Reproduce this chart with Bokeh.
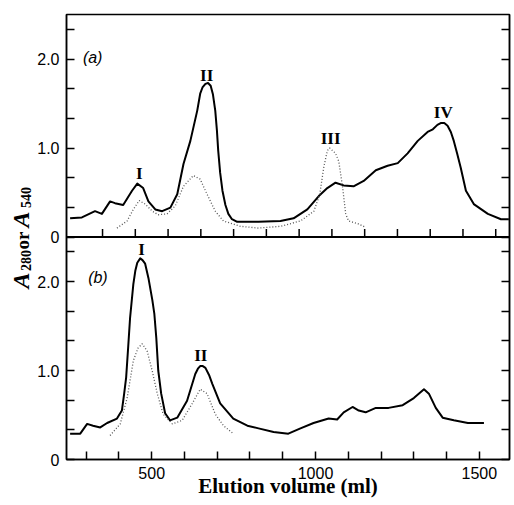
from math import pi
from bokeh.plotting import figure
from bokeh.layouts import row
from bokeh.models import Range1d, FixedTicker, LinearAxis, Span, Label, ColumnDataSource
from bokeh.embed import file_html
from bokeh.resources import INLINE

# ---------------- data (elution volume in ml, absorbance) ----------------
# Panel (a): solid = A280, dotted = A540
A_SOLID_X = [251, 287, 327, 348, 373, 388, 413, 440, 456, 474, 490, 511, 532, 557, 578, 597, 618, 639,
             648, 655, 664, 672, 680, 687, 694, 699, 703, 709, 716, 725, 734, 745, 761, 826, 893, 933,
             975, 1010, 1036, 1061, 1086, 1116, 1147, 1184, 1220, 1251, 1281, 1312, 1342, 1358, 1372,
             1382, 1393, 1403, 1413, 1422, 1432, 1443, 1459, 1483, 1526, 1566, 1590]
A_SOLID_Y = [0.21, 0.22, 0.29, 0.26, 0.40, 0.38, 0.36, 0.52, 0.60, 0.55, 0.40, 0.31, 0.29, 0.33, 0.48,
             0.82, 1.08, 1.42, 1.61, 1.68, 1.72, 1.73, 1.70, 1.60, 1.42, 1.20, 0.97, 0.72, 0.52, 0.36,
             0.26, 0.20, 0.17, 0.17, 0.18, 0.21, 0.31, 0.46, 0.55, 0.61, 0.58, 0.57, 0.63, 0.75, 0.80,
             0.83, 0.94, 1.08, 1.18, 1.21, 1.26, 1.28, 1.28, 1.25, 1.18, 1.08, 0.94, 0.78, 0.52, 0.37,
             0.26, 0.20, 0.20]
A_DOT_X = [394, 425, 444, 462, 480, 502, 520, 547, 572, 597, 627, 648, 669, 694, 719, 771, 826, 893,
           954, 995, 1013, 1025, 1036, 1043, 1061, 1071, 1083, 1092, 1101, 1129, 1153]
A_DOT_Y = [0.10, 0.18, 0.31, 0.41, 0.37, 0.29, 0.25, 0.26, 0.35, 0.57, 0.69, 0.65, 0.48, 0.29, 0.18,
           0.12, 0.10, 0.12, 0.18, 0.29, 0.48, 0.78, 0.97, 1.00, 0.94, 0.85, 0.55, 0.26, 0.18, 0.15, 0.11]

# Panel (b)
B_SOLID_X = [251, 282, 303, 321, 343, 364, 394, 409, 416, 422, 428, 434, 444, 450, 456, 465, 472, 480,
             490, 502, 508, 514, 520, 529, 541, 556, 578, 608, 633, 641, 648, 656, 664, 675, 685, 709,
             749, 792, 826, 872, 917, 954, 994, 1040, 1066, 1086, 1113, 1132, 1153, 1184, 1223, 1266,
             1300, 1331, 1346, 1367, 1388, 1422, 1465, 1514]
B_SOLID_Y = [0.29, 0.29, 0.40, 0.38, 0.36, 0.41, 0.46, 0.55, 0.74, 0.92, 1.25, 1.59, 1.97, 2.12, 2.21,
             2.26, 2.24, 2.20, 2.04, 1.79, 1.64, 1.37, 1.00, 0.74, 0.52, 0.44, 0.47, 0.66, 0.96, 1.02,
             1.05, 1.05, 1.03, 0.95, 0.85, 0.63, 0.46, 0.38, 0.35, 0.31, 0.29, 0.35, 0.41, 0.46, 0.45,
             0.53, 0.59, 0.55, 0.53, 0.58, 0.58, 0.61, 0.69, 0.79, 0.74, 0.58, 0.47, 0.44, 0.41, 0.41]
B_DOT_X = [373, 404, 425, 444, 458, 471, 486, 502, 517, 535, 563, 593, 624, 648, 669, 694, 719, 746]
B_DOT_Y = [0.27, 0.40, 0.69, 1.11, 1.25, 1.30, 1.22, 0.99, 0.74, 0.51, 0.40, 0.44, 0.63, 0.79, 0.74,
           0.51, 0.38, 0.30]

# ticks
X_MAJOR = [500, 1000, 1500]
X_MINOR = [300, 400, 600, 700, 800, 900, 1100, 1200, 1300, 1400]
A_XTICKS = [350, 450, 550, 650, 750, 850, 950, 1050, 1150, 1250, 1350, 1450, 1550]
Y_MAJOR = [0, 1, 2]
Y_LABELS = ["0", "1.0", "2.0"]
Y_MINOR = [1 / 3, 2 / 3, 4 / 3, 5 / 3, 7 / 3]
PANEL_SPAN = 2.5  # each panel shows 0 .. 2.5

# peak labels: (text, x, y) -- centre of the label
A_PEAKS = [("I", 462, 0.71), ("II", 668, 1.82), ("III", 1046, 1.107), ("IV", 1390, 1.404)]
B_PEAKS = [("I", 469, 2.36), ("II", 650, 1.17)]

H = 505
STRIP_W = 33
FRAME_TOP, FRAME_BOTTOM = 14, 459

# ---------------- main figure ----------------
XR = (240, 1592)
p = figure(width=479, height=H, output_backend="svg", toolbar_location=None,
           x_range=Range1d(*XR), y_range=Range1d(0, 2 * PANEL_SPAN),
           min_border_left=66 - STRIP_W, min_border_right=3, min_border_top=FRAME_TOP,
           min_border_bottom=H - FRAME_BOTTOM,
           background_fill_color="white", border_fill_color="white")
p.extra_y_ranges = {"top": Range1d(-PANEL_SPAN, PANEL_SPAN)}
p.grid.visible = False
p.outline_line_color = "black"
p.outline_line_width = 1.5

TICK_FONT = "Liberation Sans"

# y ticks for both panels on one axis
ymaj = Y_MAJOR + [v + PANEL_SPAN for v in Y_MAJOR]
ymin = Y_MINOR + [v + PANEL_SPAN for v in Y_MINOR]
yover = {}
for v, lab in zip(Y_MAJOR, Y_LABELS):
    yover[v] = lab
    yover[v + PANEL_SPAN] = lab


def style_axis(ax):
    ax.axis_line_color = "black"
    ax.axis_line_width = 1.5
    ax.major_tick_in = 8
    ax.major_tick_out = 0
    ax.minor_tick_in = 8
    ax.minor_tick_out = 0
    ax.major_tick_line_width = 1.5
    ax.minor_tick_line_width = 1.5
    ax.major_tick_line_color = "black"
    ax.minor_tick_line_color = "black"
    ax.major_label_text_font = TICK_FONT
    ax.major_label_text_font_size = "16px"
    ax.major_label_text_color = "black"


yax = p.yaxis[0]
yax.ticker = FixedTicker(ticks=ymaj, minor_ticks=ymin)
yax.major_label_overrides = yover
yax.major_label_standoff = 7
style_axis(yax)

rax = LinearAxis(ticker=FixedTicker(ticks=ymaj, minor_ticks=ymin),
                 major_label_overrides={v: "" for v in ymaj}, major_label_standoff=0)
style_axis(rax)
p.add_layout(rax, "right")

xax = p.xaxis[0]
xax.ticker = FixedTicker(ticks=X_MAJOR, minor_ticks=X_MINOR)
xax.major_label_standoff = 7
style_axis(xax)
xax.axis_label = "Elution volume (ml)"
xax.axis_label_text_font = "Liberation Serif"
xax.axis_label_text_font_style = "bold"
xax.axis_label_text_font_size = "21px"
xax.axis_label_text_color = "black"
xax.axis_label_standoff = -8

# boundary between the panels and its ticks (x axis of panel a)
p.add_layout(Span(location=0, dimension="width", y_range_name="top",
                  line_color="black", line_width=2))
tick_src = ColumnDataSource(dict(x=A_XTICKS, y=[0] * len(A_XTICKS)))
p.ray(x="x", y="y", source=tick_src, length=8, length_units="screen", angle=pi / 2,
      line_color="black", line_width=1.5, y_range_name="top")

# curves
p.line(A_SOLID_X, A_SOLID_Y, y_range_name="top", line_color="black", line_width=2,
       line_join="round")
p.line(A_DOT_X, A_DOT_Y, y_range_name="top", line_color="#555555", line_width=1.3,
       line_dash="1 2")
p.line(B_SOLID_X, B_SOLID_Y, line_color="black", line_width=2, line_join="round")
p.line(B_DOT_X, B_DOT_Y, line_color="#555555", line_width=1.3, line_dash="1 2")

# peak labels
for t, x, y in A_PEAKS:
    p.add_layout(Label(x=x, y=y, text=t, y_range_name="top", text_align="center",
                       text_baseline="middle", text_font="Liberation Serif", text_color="black",
                       text_font_style="bold", text_font_size="17px"))
for t, x, y in B_PEAKS:
    p.add_layout(Label(x=x, y=y, text=t, text_align="center", text_color="black",
                       text_baseline="middle", text_font="Liberation Serif",
                       text_font_style="bold", text_font_size="17px"))

# panel letters
p.add_layout(Label(x=290, y=2.02, text="(a)", y_range_name="top", text_font=TICK_FONT,
                   text_color="black", text_font_style="italic", text_font_size="16px",
                   text_baseline="middle"))
p.add_layout(Label(x=306, y=2.05, text="(b)", text_font=TICK_FONT, text_color="black",
                   text_font_style="italic", text_font_size="16px", text_baseline="middle"))

# ---------------- strip holding the y-axis title ----------------
# its frame is aligned with the main frame by the row layout; the y range runs in
# page pixels (downwards) so the title pieces can be placed directly
s = figure(width=STRIP_W, height=H, output_backend="svg", toolbar_location=None,
           x_range=Range1d(0, STRIP_W), y_range=Range1d(FRAME_BOTTOM, FRAME_TOP),
           x_axis_type=None, y_axis_type=None,
           min_border_left=0, min_border_right=0, min_border_top=FRAME_TOP,
           min_border_bottom=H - FRAME_BOTTOM, outline_line_color=None,
           background_fill_color="white", border_fill_color="white")
s.grid.visible = False

# (text, centre y on page, centre x, style, size)
ylab_parts = [
    ("A", 280, 20, "bold italic", "24px"),
    ("280", 260, 25, "bold", "14px"),
    ("or", 240, 22, "bold", "19px"),
    ("A", 219, 20, "bold italic", "24px"),
    ("540", 197, 25, "bold", "14px"),
]
for t, py, px, style, size in ylab_parts:
    s.add_layout(Label(x=px, y=py, text=t, angle=pi / 2, text_align="center",
                       text_baseline="middle", text_font="Liberation Serif", text_color="black",
                       text_font_style=style, text_font_size=size))

layout = row(s, p)
open("out.html", "w").write(file_html(layout, INLINE))
